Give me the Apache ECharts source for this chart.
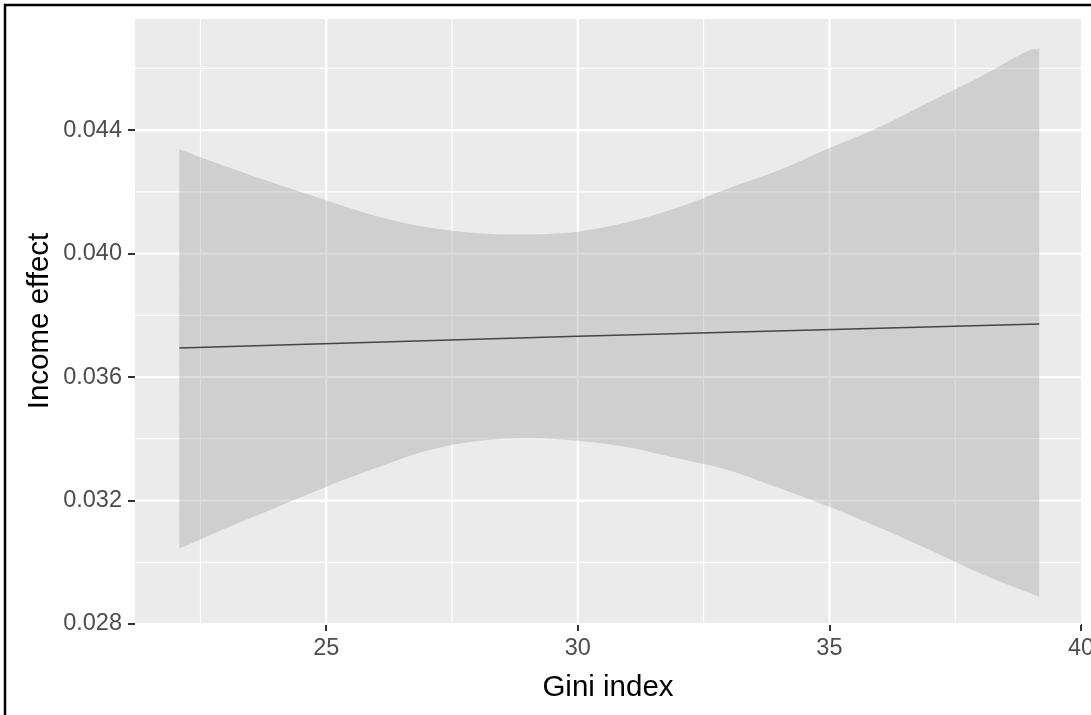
<!DOCTYPE html>
<html>
<head>
<meta charset="utf-8">
<title>Income effect vs Gini index</title>
<script src="https://cdn.jsdelivr.net/npm/echarts@6/dist/echarts.min.js"></script>
<style>
    html, body { margin: 0; padding: 0; background: #fff; }
    #main { width: 1091px; height: 715px; }
</style>
</head>
<body>
<div id="main"></div>
<script>
// confidence band
var ribbonX  = [22.08, 22.5, 23, 24, 25, 26, 27, 28, 29, 30, 31, 32, 33, 34, 35, 36, 37, 38, 39, 39.17];
var ribbonHi = [0.04338, 0.04312, 0.04283, 0.04226, 0.04173, 0.04121, 0.04085, 0.04066, 0.04062, 0.04071,
                0.04102, 0.04150, 0.04212, 0.04270, 0.04342, 0.04410, 0.04492, 0.04573, 0.04661, 0.04662];
var ribbonLo = [0.03045, 0.03074, 0.03110, 0.03177, 0.03245, 0.03306, 0.03361, 0.03393, 0.03402, 0.03394,
                0.03373, 0.03336, 0.03298, 0.03240, 0.03180, 0.03112, 0.03040, 0.02964, 0.02899, 0.02888];

// fitted line
var fitX = [22.08, 30, 39.17];
var fitY = [0.03694, 0.03732, 0.03772];

// axes
var xMin = 21.2, xMax = 40;
var yMin = 0.028, yMax = 0.0476;
var xTicks = [25, 30, 35, 40];
var yTicks = [0.028, 0.032, 0.036, 0.040, 0.044];
var xMinor = [22.5, 27.5, 32.5, 37.5];
var yMinor = [0.030, 0.034, 0.038, 0.042, 0.046];

var chart = echarts.init(document.getElementById('main'));

var fitData = fitX.map(function (x, i) { return [x, fitY[i]]; });

// panel grid lines (ggplot style: thick major, thin minor)
function gridItem(api) {
    var kids = [];
    function vline(v, w) {
        var a = api.coord([v, yMin]), b = api.coord([v, yMax]);
        kids.push({type: 'line', shape: {x1: a[0], y1: a[1], x2: b[0], y2: b[1]},
                   style: {stroke: '#ffffff', lineWidth: w}});
    }
    function hline(v, w) {
        var a = api.coord([xMin, v]), b = api.coord([xMax, v]);
        kids.push({type: 'line', shape: {x1: a[0], y1: a[1], x2: b[0], y2: b[1]},
                   style: {stroke: '#ffffff', lineWidth: w}});
    }
    xMinor.forEach(function (v) { vline(v, 1.1); });
    yMinor.forEach(function (v) { hline(v, 1.1); });
    xTicks.forEach(function (v) { if (v < xMax) vline(v, 2.2); });
    yTicks.forEach(function (v) { hline(v, 2.2); });
    return {type: 'group', children: kids};
}

// band polygon, corners doubled so smoothing keeps them square
function ribbonItem(api) {
    var pts = [];
    var n = ribbonX.length;
    var p;
    p = api.coord([ribbonX[0], ribbonHi[0]]); pts.push(p, p.slice());
    for (var i = 1; i < n - 1; i++) pts.push(api.coord([ribbonX[i], ribbonHi[i]]));
    p = api.coord([ribbonX[n - 1], ribbonHi[n - 1]]); pts.push(p, p.slice());
    p = api.coord([ribbonX[n - 1], ribbonLo[n - 1]]); pts.push(p, p.slice());
    for (var j = n - 2; j > 0; j--) pts.push(api.coord([ribbonX[j], ribbonLo[j]]));
    p = api.coord([ribbonX[0], ribbonLo[0]]); pts.push(p, p.slice());
    return {
        type: 'polygon',
        shape: {points: pts, smooth: 0.35},
        style: {fill: 'rgba(153,153,153,0.34)', stroke: 'none'}
    };
}

var option = {
    animation: false,
    backgroundColor: '#ffffff',
    textStyle: {fontFamily: 'Liberation Sans, Arial, sans-serif'},
    grid: {
        left: 135, top: 19, right: 10, bottom: 91,
        show: true, backgroundColor: '#ebebeb', borderWidth: 0,
        containLabel: false, outerBoundsMode: 'none'
    },
    xAxis: {
        type: 'value', min: xMin, max: xMax,
        axisLine: {show: false},
        splitLine: {show: false},
        axisTick: {show: true, customValues: xTicks, length: 7, lineStyle: {color: '#333333', width: 2}},
        axisLabel: {
            customValues: xTicks, margin: 13, color: '#4d4d4d', fontSize: 23.5,
            fontFamily: 'Liberation Sans', formatter: function (v) { return String(v); }
        }
    },
    yAxis: {
        type: 'value', min: yMin, max: yMax,
        axisLine: {show: false},
        splitLine: {show: false},
        axisTick: {show: true, customValues: yTicks, length: 7, lineStyle: {color: '#333333', width: 2}},
        axisLabel: {
            customValues: yTicks, margin: 13, color: '#4d4d4d', fontSize: 23.5,
            fontFamily: 'Liberation Sans', formatter: function (v) { return v.toFixed(3); }
        }
    },
    graphic: [
        {
            type: 'rect', x: 0, y: 0, z: 100, silent: true,
            shape: {x: 5, y: 5, width: 1200, height: 900},
            style: {fill: 'none', stroke: '#000000', lineWidth: 2.5}
        },
        {
            type: 'text', x: 608, y: 688, z: 100,
            style: {text: 'Gini index', fill: '#000000', font: '29.5px "Liberation Sans"', align: 'center', verticalAlign: 'middle'}
        },
        {
            type: 'text', x: 40, y: 321, rotation: Math.PI / 2, z: 100,
            style: {text: 'Income effect', fill: '#000000', font: '29.5px "Liberation Sans"', align: 'center', verticalAlign: 'middle'}
        }
    ],
    series: [
        {
            type: 'custom', z: 1, silent: true,
            data: [[xMin, yMin]],
            renderItem: function (params, api) { return gridItem(api); }
        },
        {
            type: 'custom', z: 2, silent: true,
            data: [[ribbonX[0], ribbonHi[0]]],
            renderItem: function (params, api) { return ribbonItem(api); }
        },
        {
            type: 'line', z: 3, data: fitData, showSymbol: false, symbol: 'none', silent: true,
            lineStyle: {color: '#444444', width: 1.6}
        }
    ]
};

chart.setOption(option);
</script>
</body>
</html>
